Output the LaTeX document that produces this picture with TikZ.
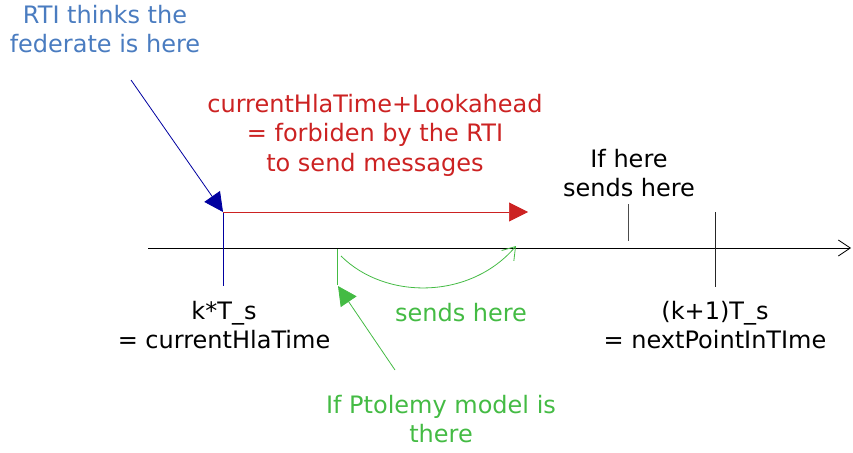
\documentclass[tikz,border=0pt]{standalone}
\usepackage{fontspec}
\setmainfont{DejaVu Sans}
\usetikzlibrary{arrows.meta}
\definecolor{rtiblue}{HTML}{4A7CC0}
\definecolor{darkblue}{HTML}{0000A0}
\definecolor{fedred}{HTML}{CC2222}
\definecolor{ptgreen}{HTML}{44BB44}
\begin{document}
\begin{tikzpicture}[x=1pt,y=-1pt,
  lbl/.style={align=center,font=\fontsize{24}{29.5}\selectfont,inner sep=0pt},
  tick/.style={line width=0.9pt},
  filltip/.style={-{Triangle[length=19pt,width=19pt]}},
  opentip/.style={-{Straight Barb[length=12pt,width=16pt,line width=0.8pt]}}]
\useasboundingbox (0,0) rectangle (853,452);
% time axis
\coordinate (a0) at (148,248);
\coordinate (a1) at (851,248);
\draw[line width=0.9pt,opentip] (a0) -- (a1);
% current time marker
\coordinate (kt) at (223,212);
\coordinate (ktb) at (223,286);
\draw[darkblue,tick] (kt) -- (ktb);
% RTI view of the federate
\coordinate (rs) at (131,80);
\draw[darkblue,line width=0.8pt,filltip] (rs) -- (kt);
\node[lbl,text=rtiblue] (rti) at (105,29) {RTI thinks the\\federate is here};
% lookahead interval
\coordinate (la) at (528,212);
\draw[fedred,line width=0.7pt,filltip] (kt) -- (la);
\node[lbl,text=fedred] (fb) at (375,135) {currentHlaTime+Lookahead\\= forbiden by the RTI\\to send messages};
% "if here" marker
\coordinate (ih0) at (628,204);
\coordinate (ih1) at (628,241);
\draw[black!70,tick] (ih0) -- (ih1);
\node[lbl] (ih) at (629,173) {If here\\sends here};
% next point in time
\coordinate (np0) at (715,212);
\coordinate (np1) at (715,287);
\draw[black!85,tick] (np0) -- (np1);
\node[lbl] (np) at (715,325) {(k+1)T\_s\\= nextPointInTIme};
\node[lbl] (ks) at (224,325) {k*T\_s\\= currentHlaTime};
% Ptolemy model position
\coordinate (pm0) at (337,249);
\coordinate (pm1) at (337,285);
\draw[ptgreen,line width=0.8pt] (pm0) -- (pm1);
\coordinate (ps) at (395,370);
\coordinate (pt) at (338,286);
\draw[ptgreen,line width=0.8pt,filltip] (ps) -- (pt);
\node[lbl,text=ptgreen] (pl) at (441,419) {If Ptolemy model is\\there};
% where it sends
\coordinate (c0) at (341,256);
\coordinate (c1) at (516,246);
\draw[ptgreen,line width=0.8pt,opentip] (c0) .. controls (385,300) and (470,300) .. (c1);
\node[lbl,text=ptgreen] (sh) at (461,313) {sends here};
\end{tikzpicture}
\end{document}
